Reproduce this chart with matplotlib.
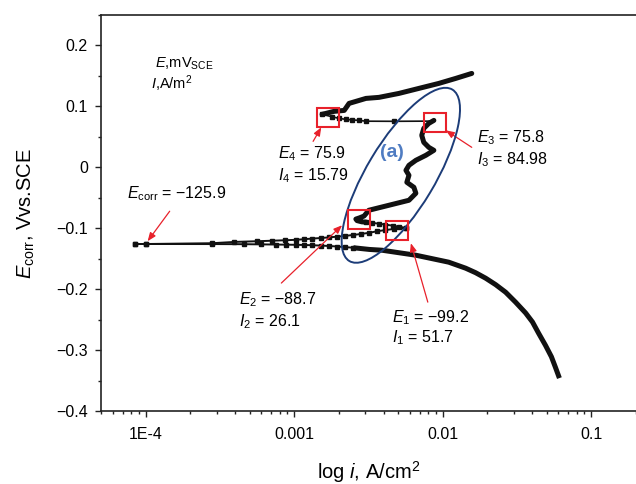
import matplotlib
matplotlib.use("Agg")
import matplotlib.pyplot as plt
import matplotlib.ticker as mticker
import matplotlib.transforms as mtransforms
from matplotlib.patches import Ellipse, Rectangle

plt.rcParams["font.family"] = ["Liberation Sans", "DejaVu Sans"]
plt.rcParams["mathtext.fontset"] = "custom"
plt.rcParams["mathtext.rm"] = "Liberation Sans"
plt.rcParams["mathtext.it"] = "Liberation Sans:italic"
plt.rcParams["axes.unicode_minus"] = True

# anodic branch: current density [A/cm2] vs potential [V]
anod_i = [8.5e-5, 1.0e-4, 2.8e-4, 3.95e-4, 5.65e-4, 7.11e-4, 8.71e-4, 1.03e-3,
          1.17e-3, 1.32e-3, 1.52e-3, 1.72e-3, 1.95e-3, 2.2e-3, 2.5e-3, 2.8e-3,
          3.2e-3, 3.6e-3, 4.1e-3, 4.7e-3, 5.65e-3]
anod_E = [-0.1259, -0.1259, -0.1246, -0.1225, -0.1213, -0.1205, -0.1197, -0.1190,
          -0.1180, -0.1170, -0.1160, -0.1150, -0.1138, -0.1126, -0.1110, -0.1095,
          -0.1075, -0.1050, -0.1030, -0.1012, -0.1000]

back_i = [5.65e-3, 5.1e-3, 4.6e-3, 4.1e-3, 3.7e-3, 3.35e-3, 3.05e-3]
back_E = [-0.0995, -0.0975, -0.0958, -0.0940, -0.0925, -0.0912, -0.0900]

zig_i = [3.05e-3, 2.85e-3, 2.65e-3, 2.6e-3, 2.75e-3, 2.95e-3, 3.18e-3, 4.34e-3,
         5.92e-3, 6.59e-3, 6.39e-3, 5.73e-3, 5.92e-3, 5.65e-3, 5.92e-3, 6.59e-3,
         7.69e-3, 8.71e-3, 8.05e-3, 7.45e-3, 7.22e-3, 7.45e-3, 8.05e-3, 8.71e-3]
zig_E = [-0.0900, -0.0895, -0.0875, -0.0850, -0.0830, -0.0800, -0.0705, -0.0623,
         -0.0541, -0.0426, -0.0328, -0.0246, -0.0131, -0.0049, 0.0033, 0.0115,
         0.0197, 0.0279, 0.0328, 0.0410, 0.0525, 0.0639, 0.0721, 0.0770]

drop_i = [8.71e-3, 8.0e-3, 4.7e-3, 3.04e-3, 2.73e-3, 2.45e-3, 2.23e-3, 2.0e-3,
          1.8e-3, 1.54e-3]
drop_E = [0.0770, 0.0758, 0.0755, 0.0757, 0.0770, 0.0778, 0.0787, 0.0803,
          0.0830, 0.0869]

upper_i = [1.54e-3, 1.85e-3, 2.17e-3, 2.34e-3, 3.04e-3, 3.72e-3, 5.07e-3,
           6.90e-3, 9.40e-3, 1.222e-2, 1.567e-2]
upper_E = [0.0869, 0.0918, 0.0934, 0.1049, 0.1131, 0.1148, 0.1213, 0.1295,
           0.1377, 0.1459, 0.1541]

# cathodic branch
cath_i = [8.5e-5, 1.0e-4, 2.8e-4, 4.61e-4, 6.01e-4, 7.57e-4, 8.83e-4, 1.03e-3,
          1.17e-3, 1.32e-3, 1.52e-3, 1.72e-3, 1.95e-3, 2.2e-3, 2.5e-3]
cath_E = [-0.1259, -0.1259, -0.1260, -0.1262, -0.1265, -0.1268, -0.1270, -0.1272,
          -0.1275, -0.1279, -0.1285, -0.1292, -0.1300, -0.1310, -0.1320]

cath2_i = [2.5e-3, 3.2e-3, 3.9e-3, 5.0e-3, 6.59e-3, 8.5e-3, 1.096e-2, 1.426e-2,
           1.664e-2, 1.944e-2, 2.27e-2, 2.649e-2, 3.09e-2, 3.61e-2, 4.02e-2,
           4.41e-2, 4.91e-2, 5.39e-2, 5.73e-2, 6.1e-2]
cath2_E = [-0.1320, -0.1348, -0.1361, -0.1400, -0.1443, -0.1500, -0.1557, -0.1656,
           -0.1730, -0.1820, -0.1926, -0.2050, -0.2213, -0.2390, -0.2540,
           -0.2720, -0.2920, -0.3110, -0.3280, -0.3460]

# highlighted points (boxes) and their labels
box_i = [4.91e-3, 2.73e-3, 8.83e-3, 1.69e-3]
box_E = [-0.1033, -0.0852, 0.0738, 0.0820]

labels = [
    (r"$E_1$ = −99.2", r"$I_1$ = 51.7", (4.55e-3, -0.2475), (4.55e-3, -0.280),
     (7.93e-3, -0.2213), (6.10e-3, -0.1246)),
    (r"$E_2$ = −88.7", r"$I_2$ = 26.1", (4.28e-4, -0.218), (4.28e-4, -0.254),
     (8.19e-4, -0.190), (2.10e-3, -0.0951)),
    (r"$E_3$ = 75.8", r"$I_3$ = 84.98", (1.69e-2, 0.0492), (1.69e-2, 0.0131),
     (1.567e-2, 0.0328), (1.047e-2, 0.0607)),
    (r"$E_4$ = 75.9", r"$I_4$ = 15.79", (7.82e-4, 0.023), (7.82e-4, -0.0131),
     (1.34e-3, 0.0426), (1.52e-3, 0.0656)),
]

RED = "#e8212b"
BLACK = "#111111"
THICK = 3.6

fig = plt.figure(figsize=(6.36, 4.84), dpi=100)
ax = fig.add_axes([101 / 636, 1 - 411 / 484, 1 - 101 / 636, (411 - 15) / 484])

thin = dict(color=BLACK, lw=1.4, marker="s", ms=3.3, mec=BLACK, mfc=BLACK)
ax.plot(cath_i, cath_E, **thin)
ax.plot(anod_i, anod_E, **thin)
ax.plot(back_i, back_E, **thin)
ax.plot(drop_i, drop_E, color=BLACK, lw=1.2)
ax.plot(drop_i[2:], drop_E[2:], ls="none", marker="s", ms=3.3, color=BLACK)
ax.plot(cath2_i, cath2_E, color=BLACK, lw=THICK, solid_capstyle="butt",
        solid_joinstyle="round")
ax.plot(zig_i, zig_E, color=BLACK, lw=THICK, solid_joinstyle="round",
        solid_capstyle="round")
ax.plot(upper_i, upper_E, color=BLACK, lw=THICK, solid_joinstyle="round",
        solid_capstyle="round")

ax.set_xscale("log")
ax.set_xlim(5e-5, 0.2)
ax.set_ylim(-0.4, 0.25)

# ellipse around region (a), sized in inches around its data centre
ell_trans = fig.dpi_scale_trans + mtransforms.ScaledTranslation(5.22e-3, -0.0131, ax.transData)
ax.add_patch(Ellipse((0, 0), 2.0, 0.68, angle=59, fill=False, ec="#1c3c78",
                     lw=1.4, transform=ell_trans, zorder=4))
ax.text(4.55e-3, 0.0246, "(a)", color="#4f7cc2", fontsize=14, fontweight="bold",
        ha="center", va="center")

for bi, be in zip(box_i, box_E):
    tr = fig.dpi_scale_trans + mtransforms.ScaledTranslation(bi, be, ax.transData)
    ax.add_patch(Rectangle((-0.11, -0.095), 0.22, 0.19, fill=False, ec=RED,
                           lw=1.5, transform=tr, zorder=5))

for l1, l2, p1, p2, tail, head in labels:
    ax.text(p1[0], p1[1], l1, fontsize=11.5, va="center", ha="left")
    ax.text(p2[0], p2[1], l2, fontsize=11.5, va="center", ha="left")
    ax.annotate("", xy=head, xytext=tail,
                arrowprops=dict(arrowstyle="-|>,head_length=0.5,head_width=0.2",
                                color=RED, lw=0.9, shrinkA=0, shrinkB=0))

ax.text(7.45e-5, -0.0426, r"$E_{\rm corr}$ = −125.9", fontsize=11.5,
        va="center", ha="left")
ax.annotate("", xy=(1.03e-4, -0.1213), xytext=(1.45e-4, -0.0721),
            arrowprops=dict(arrowstyle="-|>,head_length=0.5,head_width=0.2",
                            color=RED, lw=0.9, shrinkA=0, shrinkB=0))

ax.text(1.15e-4, 0.1705, r"$E$,mV$_{\rm SCE}$", fontsize=10.5, va="center")
ax.text(1.08e-4, 0.1377, r"$I$,A/m$^2$", fontsize=10.5, va="center")

ax.set_xticks([1e-4, 1e-3, 1e-2, 1e-1])
ax.set_xticklabels(["1E-4", "0.001", "0.01", "0.1"])
ax.xaxis.set_minor_locator(mticker.LogLocator(base=10, subs=range(2, 10), numticks=20))
ax.xaxis.set_minor_formatter(mticker.NullFormatter())
ax.set_yticks([-0.4, -0.3, -0.2, -0.1, 0, 0.1, 0.2])
ax.set_yticklabels(["−0.4", "−0.3", "−0.2", "−0.1", "0", "0.1", "0.2"])
ax.yaxis.set_minor_locator(mticker.MultipleLocator(0.05))

ax.tick_params(which="both", direction="out", labelsize=11.5, width=1.0, color="#222222")
ax.tick_params(which="major", length=4.5)
ax.tick_params(which="minor", length=2.5)
ax.tick_params(axis="x", pad=7)
ax.tick_params(axis="y", pad=5)
ax.spines["right"].set_visible(False)
for s in ["left", "top", "bottom"]:
    ax.spines[s].set_linewidth(1.2)
    ax.spines[s].set_color("#222222")

ax.set_xlabel(r"log $i$, A/cm$^2$", fontsize=14.5, labelpad=12)
ax.set_ylabel(r"$E_{\rm corr}$, Vvs.SCE", fontsize=14.5, labelpad=14)

fig.savefig("out.png", dpi=100)
